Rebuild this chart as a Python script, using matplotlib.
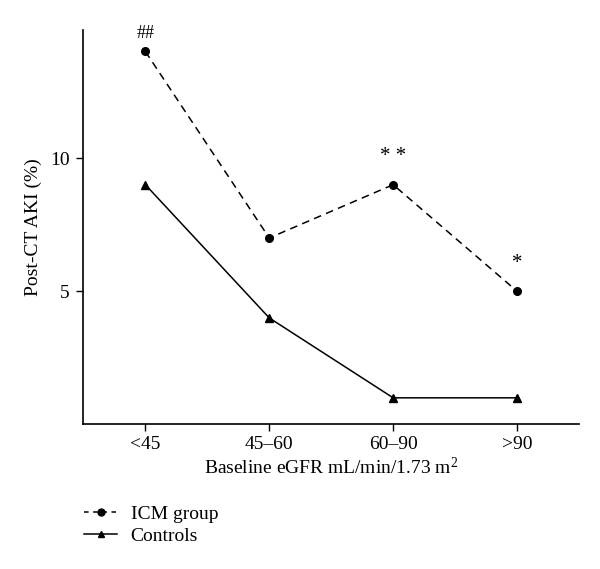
import matplotlib
matplotlib.use("Agg")
import matplotlib.pyplot as plt
from matplotlib.lines import Line2D

categories = ["<45", "45\u201360", "60\u201390", ">90"]
icm_values = [14, 7, 9, 5]
control_values = [9, 4, 1, 1]
icm_marks = ["##", "", "* *", "*"]
y_ticks = [5, 10]

plt.rcParams['font.family'] = ['Liberation Serif', 'DejaVu Serif']
plt.rcParams['mathtext.fontset'] = 'custom'
plt.rcParams['mathtext.rm'] = 'Liberation Serif'
plt.rcParams['mathtext.it'] = 'Liberation Serif:italic'

fig = plt.figure(figsize=(6.0, 5.69), dpi=100)
ax = fig.add_axes([0.139, 0.254, 0.826, 0.693])

x = list(range(len(categories)))
ax.plot(x, icm_values, color='black', linestyle=(0, (5, 3.5)), linewidth=1.1,
        marker='o', markersize=5.5, label='ICM group', clip_on=False)
ax.plot(x, control_values, color='black', linestyle='-', linewidth=1.1,
        marker='^', markersize=5.5, label='Controls', clip_on=False)

offsets = {"##": 13, "* *": 20, "*": 20}
for xi, yi, m in zip(x, icm_values, icm_marks):
    if m:
        ax.annotate(m, (xi, yi), xytext=(0, offsets[m]), textcoords='offset points',
                    ha='center', va='center', fontsize=13 if m == "##" else 15,
                    annotation_clip=False)

ax.set_xlim(-0.5, 3.5)
ax.set_ylim(0, 14.8)
ax.set_xticks(x)
ax.set_xticklabels(categories, fontsize=14)
ax.set_yticks(y_ticks)
ax.set_yticklabels([str(t) for t in y_ticks], fontsize=14)
ax.tick_params(axis='x', direction='out', length=5, width=1, colors='black', pad=3)
ax.tick_params(axis='y', direction='out', length=5, width=1, colors='black', pad=5)
for s in ['top', 'right']:
    ax.spines[s].set_visible(False)
for s in ['left', 'bottom']:
    ax.spines[s].set_linewidth(1.2)

ax.set_ylabel('Post-CT AKI (%)', fontsize=14, labelpad=6)
ax.set_xlabel('Baseline eGFR mL/min/1.73 m$^2$', fontsize=14, labelpad=3)

handles = [
    Line2D([], [], color='black', linestyle=(0, (3, 3)), linewidth=1.1, marker='o', markersize=5),
    Line2D([], [], color='black', linestyle='-', linewidth=1.1, marker='^', markersize=5),
]
fig.legend(handles, ['ICM group', 'Controls'], loc='upper left',
           bbox_to_anchor=(0.127, 0.125), frameon=False, fontsize=14,
           handlelength=1.7, handletextpad=0.7, labelspacing=0.2, borderaxespad=0)

fig.savefig('out.png', dpi=100)
